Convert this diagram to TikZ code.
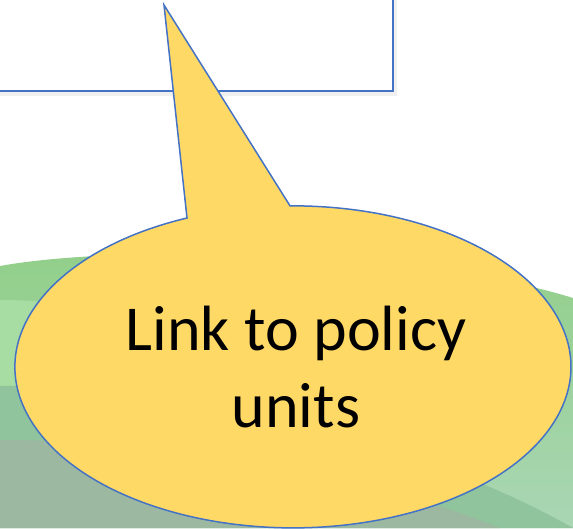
\documentclass[tikz,border=0pt]{standalone}
\usepackage{fontspec}
\setmainfont{Carlito}
\usetikzlibrary{positioning,calc}
\definecolor{bubblefill}{HTML}{FFD966}
\definecolor{edgeblue}{HTML}{4472C4}
\definecolor{hilltop}{HTML}{92CF89}
\definecolor{hillmid}{HTML}{A7DCA2}
\definecolor{hillbot}{HTML}{A9D6B4}
\definecolor{hilldark}{HTML}{8FC49C}
\definecolor{hillgray}{HTML}{9DB8A1}
\tikzstyle{bubble} = [fill=bubblefill,draw=edgeblue,line width=1.5pt,line join=miter]
\tikzstyle{frame} = [draw=edgeblue,line width=1.5pt,fill=white]
\tikzset{>=latex}

\begin{document}
\begin{tikzpicture}[x=1pt,y=-1pt]
  \useasboundingbox (0,0) rectangle (573,528);
  % hills
  \shade [top color=hilltop,bottom color=hillbot] (0,266) .. controls (120,244) and (420,250) .. (573,298)
    -- (573,528) -- (0,528) -- cycle;
  \fill [hillmid] (0,300) .. controls (60,300) and (120,310) .. (200,330) -- (200,390) -- (0,386) -- cycle;
  \fill [hilldark] (0,386) .. controls (150,382) and (400,430) .. (573,528) -- (0,528) -- cycle;
  \fill [hillgray] (0,440) .. controls (200,440) and (380,480) .. (500,528) -- (0,528) -- cycle;

  % box
  \fill [black,opacity=0.06] (-5,-5) rectangle (397,96);
  \draw [frame] (-5,-5) rectangle (393,91);

  % callout
  \coordinate (tip) at (164,5);
  \coordinate (baseL) at (187,218);
  \fill [black,opacity=0.18,shift={(3,4)}] (tip) -- (baseL)
    arc [start angle=247.6,end angle=-90.6,x radius=278,y radius=161] -- cycle;
  \draw [bubble] (tip) -- (baseL)
    arc [start angle=247.6,end angle=-90.6,x radius=278,y radius=161] -- cycle;
  \node [font=\fontsize{64}{77}\selectfont,align=center] (lbl) at (296,367) {Link to policy\\units};
\end{tikzpicture}
\end{document}
